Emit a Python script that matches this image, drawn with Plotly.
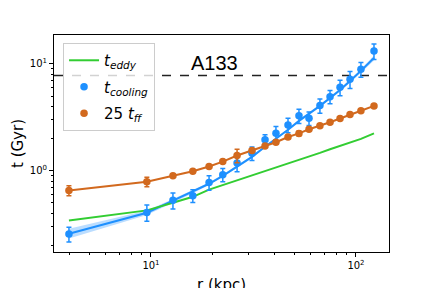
import plotly.graph_objects as go
import numpy as np

# radii (kpc)
r = [3.98, 9.55, 12.8, 16.0, 19.2, 22.4, 26.3, 31.1, 36.0, 40.7, 46.6, 52.7,
     59.0, 66.7, 74.7, 83.6, 93.5, 105.7, 122.4]

# 25 t_ff (Gyr)
t_ff25 = [0.654, 0.789, 0.898, 0.99, 1.097, 1.22, 1.39, 1.55, 1.71, 1.85, 2.07,
          2.24, 2.45, 2.64, 2.85, 3.09, 3.37, 3.65, 4.05]
t_ff25_err = [0.07, 0.08, 0.03, 0.03, 0.03, 0.04, 0.2, 0.05, 0.05, 0.07, 0.07,
              0.12, 0.07, 0.08, 0.07, 0.08, 0.08, 0.09, 0.1]

# t_cooling (Gyr)
t_cool = [0.256, 0.408, 0.530, 0.584, 0.778, 0.918, 1.18, 1.46, 1.95, 2.25, 2.69,
          3.27, 3.11, 4.08, 4.94, 6.05, 7.19, 8.91, 13.2]
t_cool_err = [0.04, 0.07, 0.09, 0.08, 0.12, 0.13, 0.2, 0.21, 0.23, 0.35, 0.42,
              0.5, 0.45, 0.63, 0.7, 1.0, 1.3, 1.4, 2.2]

# t_cooling fit and band
t_cool_fit = [0.258, 0.405, 0.525, 0.637, 0.756, 0.898, 1.09, 1.35, 1.68, 1.99,
              2.42, 2.93, 3.41, 4.05, 4.81, 5.71, 6.94, 8.61, 11.4]
t_cool_lo = [0.232, 0.385, 0.505, 0.618, 0.736, 0.876, 1.065, 1.32, 1.64, 1.94,
             2.36, 2.85, 3.32, 3.93, 4.66, 5.52, 6.70, 8.28, 10.8]
t_cool_hi = [0.287, 0.426, 0.546, 0.657, 0.777, 0.921, 1.115, 1.38, 1.72, 2.04,
             2.48, 3.01, 3.50, 4.17, 4.96, 5.90, 7.18, 8.95, 12.0]

# t_eddy (Gyr)
t_eddy = [0.343, 0.426, 0.502, 0.571, 0.667, 0.735, 0.811, 0.902, 0.987, 1.07,
          1.16, 1.25, 1.35, 1.47, 1.59, 1.71, 1.83, 1.99, 2.24]

t_ref = 7.78
cluster = "A133"

BLUE = "#1E90FF"
ORANGE = "#D2691E"
GREEN = "#32CD32"

fig = go.Figure()

# band
fig.add_trace(go.Scatter(x=r + r[::-1], y=t_cool_hi + t_cool_lo[::-1], fill="toself",
                         fillcolor="rgba(30,144,255,0.3)", line=dict(width=0),
                         hoverinfo="skip", showlegend=False))
fig.add_trace(go.Scatter(x=r, y=t_cool_fit, mode="lines", line=dict(color=BLUE, width=2),
                         showlegend=False))
fig.add_trace(go.Scatter(x=r, y=t_ff25, mode="lines", line=dict(color=ORANGE, width=2),
                         showlegend=False))

fig.add_trace(go.Scatter(x=r, y=t_eddy, mode="lines", line=dict(color=GREEN, width=2),
                         name="<i>t</i><sub><i>eddy</i></sub>", legendgroup="a"))
fig.add_trace(go.Scatter(x=r, y=t_cool, mode="markers",
                         marker=dict(color=BLUE, size=7.5),
                         error_y=dict(type="data", array=t_cool_err, color=BLUE,
                                      thickness=1.5, width=2.5),
                         name="<i>t</i><sub><i>cooling</i></sub>", legendgroup="b"))
fig.add_trace(go.Scatter(x=r, y=t_ff25, mode="markers",
                         marker=dict(color=ORANGE, size=7.5),
                         error_y=dict(type="data", array=t_ff25_err, color=ORANGE,
                                      thickness=1.5, width=2.5),
                         name="25 <i>t</i><sub><i>ff</i></sub>", legendgroup="c"))

fig.add_hline(y=t_ref, line=dict(color="#222", width=1.5, dash="dash"), layer="below")

fig.add_annotation(x=np.log10(15.3), y=np.log10(10.1), text=cluster, showarrow=False,
                   xanchor="left", yanchor="middle",
                   font=dict(family="Liberation Sans", size=20, color="black"))

# x-axis title
fig.add_annotation(x=0.5, y=0, xref="paper", yref="paper", text="r (kpc)",
                   showarrow=False, xanchor="center", yanchor="top", yshift=-22,
                   font=dict(family="DejaVu Sans", size=15, color="black"))

xminor = [4, 5, 6, 7, 8, 9, 20, 30, 40, 50, 60, 70, 80, 90]
yminor = [0.2, 0.3, 0.4, 0.5, 0.6, 0.7, 0.8, 0.9, 2, 3, 4, 5, 6, 7, 8, 9]

axcommon = dict(showgrid=False, zeroline=False, showline=True, linecolor="black",
                linewidth=1, mirror=True, ticks="outside", ticklen=4, tickwidth=1,
                tickcolor="black", automargin=False,
                tickfont=dict(family="DejaVu Sans", size=10, color="black"))

fig.update_xaxes(type="log", range=[0.527, 2.161], tickvals=[10, 100],
                 ticktext=["10<sup>1</sup>", "10<sup>2</sup>"],
                 minor=dict(tickvals=xminor, ticks="outside", ticklen=2, tickcolor="black"),
                 **axcommon)
fig.update_yaxes(type="log", range=[-0.76, 1.271], tickvals=[1, 10],
                 ticktext=["10<sup>0</sup>", "10<sup>1</sup>"],
                 minor=dict(tickvals=yminor, ticks="outside", ticklen=2, tickcolor="black"),
                 title=dict(text="t (Gyr)", font=dict(family="DejaVu Sans", size=15, color="black"),
                            standoff=2),
                 **axcommon)

fig.update_layout(
    width=432, height=288,
    margin=dict(l=54, r=43, t=35, b=36),
    paper_bgcolor="white", plot_bgcolor="white",
    legend=dict(x=0.027, y=0.963, xanchor="left", yanchor="top",
                bgcolor="rgba(255,255,255,0.8)", bordercolor="#cccccc", borderwidth=1,
                font=dict(family="DejaVu Sans", size=15, color="black"),
                tracegroupgap=4, itemwidth=30),
)

fig.write_html("out.html", config={"displayModeBar": False},
               post_script="document.body.style.margin='0';")
